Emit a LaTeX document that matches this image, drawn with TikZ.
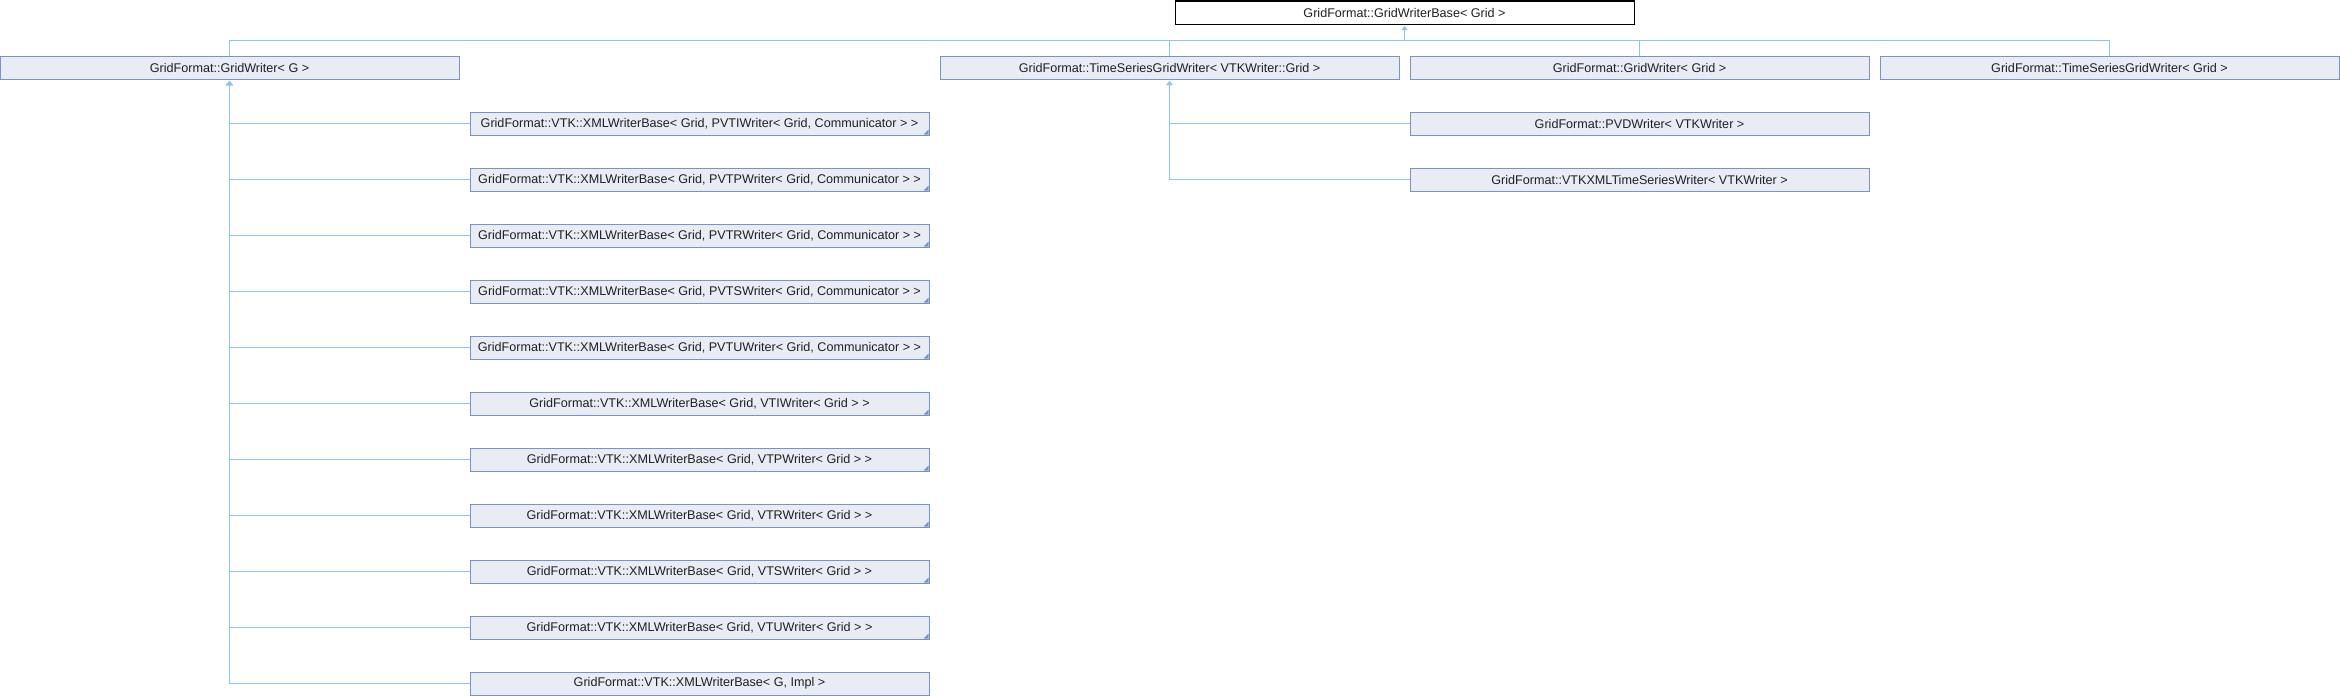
\documentclass[tikz,border=0pt]{standalone}
\usepackage{fontspec}
\setmainfont{Liberation Sans}
\usetikzlibrary{arrows.meta}
\definecolor{fcol}{HTML}{E8ECF5}
\definecolor{bcol}{HTML}{7B92C8}
\definecolor{ecol}{HTML}{8EC4E8}
\definecolor{tcol}{HTML}{202020}
\tikzset{
  cls/.style={draw=bcol, fill=fcol, line width=1pt, minimum width=459pt, minimum height=23pt,
    inner sep=0pt, outer sep=0pt, text=tcol, font=\fontsize{12.6pt}{14pt}\selectfont},
  topcls/.style={cls, draw=black, fill=white},
  edge/.style={draw=ecol, line width=1pt, -{Triangle[width=6pt,length=4pt]}, shorten >=2pt},
  line/.style={draw=ecol, line width=1pt},
}
\newcommand{\corner}[1]{\fill[bcol] ([xshift=-0.5pt,yshift=0.5pt]#1.south east) -- ++(-5pt,0pt) -- ++(5pt,5pt) -- cycle;}
\begin{document}
\begin{tikzpicture}[x={(1pt,0pt)}, y={(0pt,-1pt)}]
\useasboundingbox (0,0) rectangle (2340,696);
% top
\node[topcls] (top) at (1404.5,12.5) {GridFormat::GridWriterBase< Grid >};
% row 1
\node[cls] (gw)  at (229.5,67.5)  {GridFormat::GridWriter< G >};
\node[cls] (tsv) at (1169.5,67.5) {GridFormat::TimeSeriesGridWriter< VTKWriter::Grid >};
\node[cls] (gwg) at (1639.5,67.5) {GridFormat::GridWriter< Grid >};
\node[cls] (tsg) at (2109.5,67.5) {GridFormat::TimeSeriesGridWriter< Grid >};
% children of GridWriter<G>
\node[cls] (c1)  at (699.5,123.5) {GridFormat::VTK::XMLWriterBase< Grid, PVTIWriter< Grid, Communicator > >};
\node[cls] (c2)  at (699.5,179.5) {GridFormat::VTK::XMLWriterBase< Grid, PVTPWriter< Grid, Communicator > >};
\node[cls] (c3)  at (699.5,235.5) {GridFormat::VTK::XMLWriterBase< Grid, PVTRWriter< Grid, Communicator > >};
\node[cls] (c4)  at (699.5,291.5) {GridFormat::VTK::XMLWriterBase< Grid, PVTSWriter< Grid, Communicator > >};
\node[cls] (c5)  at (699.5,347.5) {GridFormat::VTK::XMLWriterBase< Grid, PVTUWriter< Grid, Communicator > >};
\node[cls] (c6)  at (699.5,403.5) {GridFormat::VTK::XMLWriterBase< Grid, VTIWriter< Grid > >};
\node[cls] (c7)  at (699.5,459.5) {GridFormat::VTK::XMLWriterBase< Grid, VTPWriter< Grid > >};
\node[cls] (c8)  at (699.5,515.5) {GridFormat::VTK::XMLWriterBase< Grid, VTRWriter< Grid > >};
\node[cls] (c9)  at (699.5,571.5) {GridFormat::VTK::XMLWriterBase< Grid, VTSWriter< Grid > >};
\node[cls] (c10) at (699.5,627.5) {GridFormat::VTK::XMLWriterBase< Grid, VTUWriter< Grid > >};
\node[cls] (c11) at (699.5,683.5) {GridFormat::VTK::XMLWriterBase< G, Impl >};
% children of TimeSeriesGridWriter<VTKWriter::Grid>
\node[cls] (pvd) at (1639.5,123.5) {GridFormat::PVDWriter< VTKWriter >};
\node[cls] (vxt) at (1639.5,179.5) {GridFormat::VTKXMLTimeSeriesWriter< VTKWriter >};
% corner marks
\foreach \n in {c1,c2,c3,c4,c5,c6,c7,c8,c9,c10}{\corner{\n}}
% inheritance to top
\coordinate (bus) at (1404.5,40);
\draw[line] (gw.north) |- (bus);
\draw[line] (tsv.north) |- (bus);
\draw[line] (gwg.north) |- (bus);
\draw[line] (tsg.north) |- (bus);
\draw[edge] (bus) -- (top.south);
% inheritance to GridWriter<G>
\foreach \n in {c1,c2,c3,c4,c5,c6,c7,c8,c9,c10,c11}{\draw[edge] (\n.west) -| (gw.south);}
% inheritance to TimeSeriesGridWriter<VTKWriter::Grid>
\draw[edge] (pvd.west) -| (tsv.south);
\draw[edge] (vxt.west) -| (tsv.south);
\end{tikzpicture}
\end{document}
